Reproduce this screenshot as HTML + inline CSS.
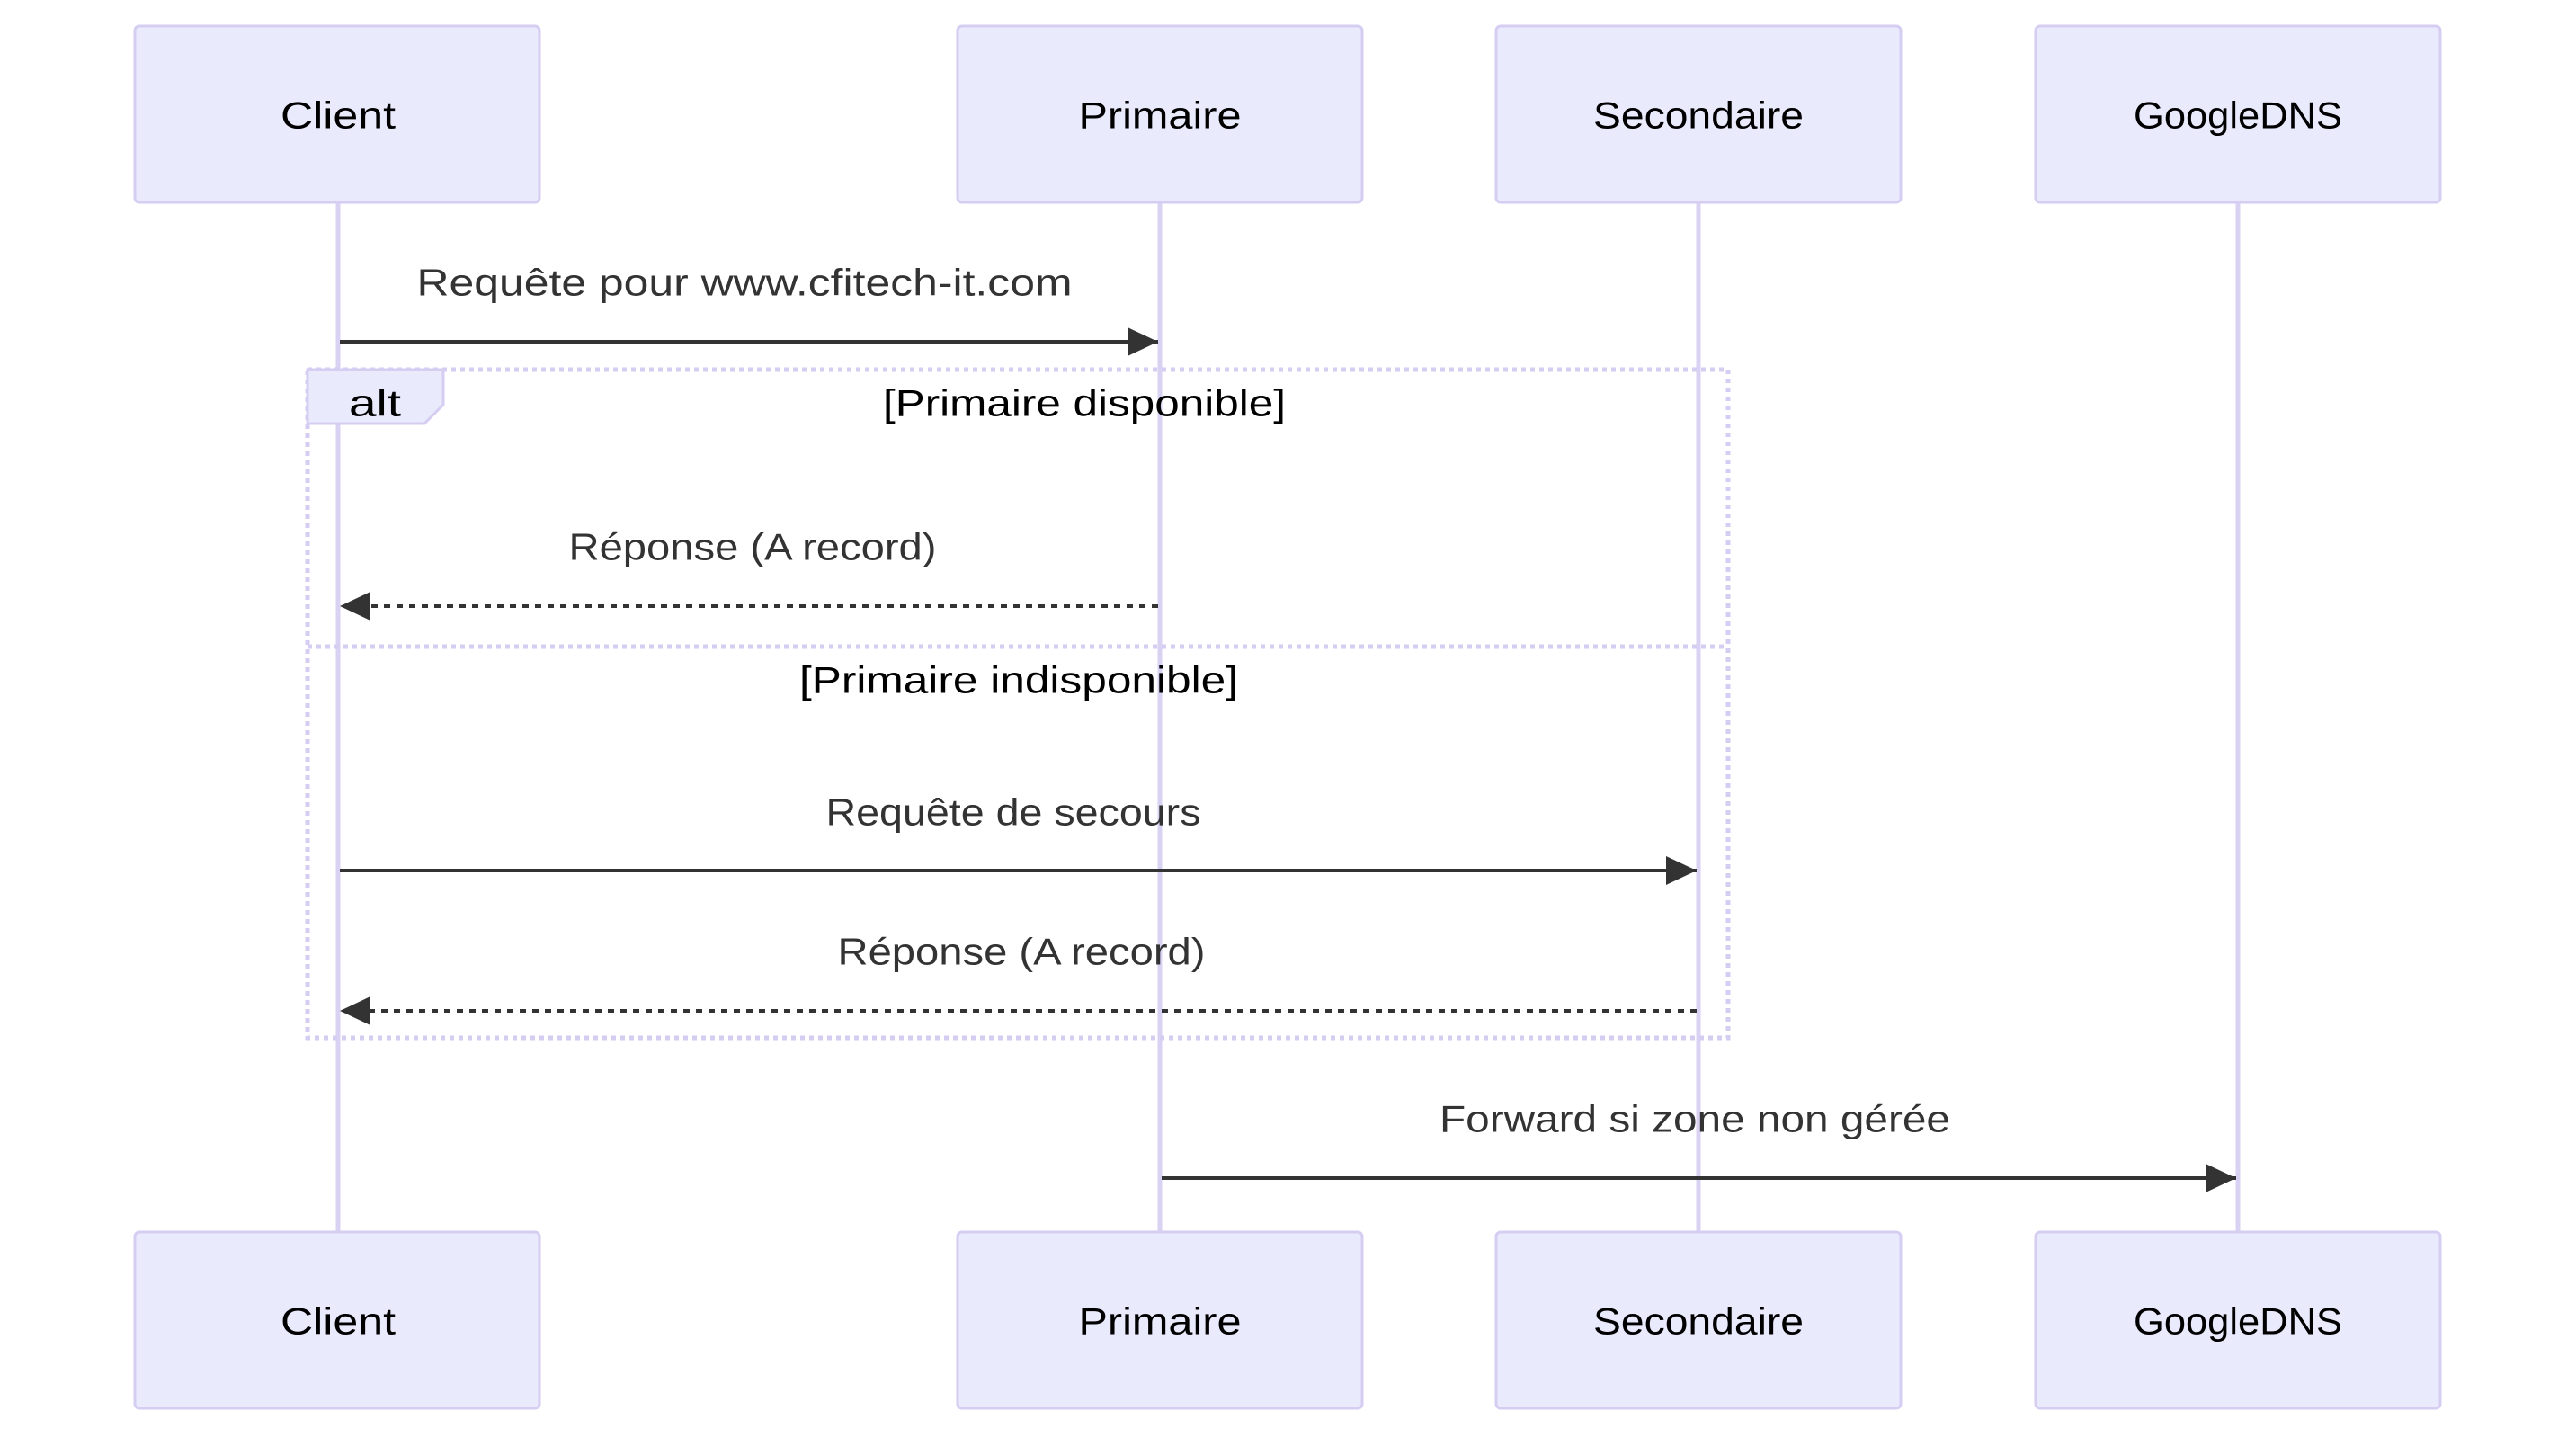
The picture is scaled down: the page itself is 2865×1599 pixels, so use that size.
<!DOCTYPE html>
<html><head><meta charset="utf-8"><style>html,body{margin:0;padding:0;background:#fff}svg{display:block}</style></head>
<body>
<svg width="2865" height="1599" viewBox="0 0 2865 1599" xmlns="http://www.w3.org/2000/svg" font-family="'Liberation Sans', sans-serif">
<defs>
<marker id="ah" markerWidth="34" markerHeight="32" refX="34" refY="16" orient="auto" markerUnits="userSpaceOnUse"><path d="M0,0 L34,16 L0,32 Z" fill="#333"/></marker>
</defs>
<g stroke="#dad2f3" stroke-width="5">
<line x1="376" y1="225" x2="376" y2="1370"/>
<line x1="1290" y1="225" x2="1290" y2="1370"/>
<line x1="1889" y1="225" x2="1889" y2="1370"/>
<line x1="2489" y1="225" x2="2489" y2="1370"/>
</g>
<g fill="#eaeafd" stroke="#d6cdf2" stroke-width="3">
<rect x="150" y="29" width="450" height="196" rx="5"/>
<rect x="1065" y="29" width="450" height="196" rx="5"/>
<rect x="1664" y="29" width="450" height="196" rx="5"/>
<rect x="2264" y="29" width="450" height="196" rx="5"/>
<rect x="150" y="1370" width="450" height="196" rx="5"/>
<rect x="1065" y="1370" width="450" height="196" rx="5"/>
<rect x="1664" y="1370" width="450" height="196" rx="5"/>
<rect x="2264" y="1370" width="450" height="196" rx="5"/>
</g>
<g font-size="42" fill="#000" text-anchor="middle" dominant-baseline="central">
<text x="376" y="128" textLength="128" lengthAdjust="spacingAndGlyphs">Client</text>
<text x="1290" y="128" textLength="181" lengthAdjust="spacingAndGlyphs">Primaire</text>
<text x="1889" y="128" textLength="234" lengthAdjust="spacingAndGlyphs">Secondaire</text>
<text x="2489" y="128" textLength="232" lengthAdjust="spacingAndGlyphs">GoogleDNS</text>
<text x="376" y="1469" textLength="128" lengthAdjust="spacingAndGlyphs">Client</text>
<text x="1290" y="1469" textLength="181" lengthAdjust="spacingAndGlyphs">Primaire</text>
<text x="1889" y="1469" textLength="234" lengthAdjust="spacingAndGlyphs">Secondaire</text>
<text x="2489" y="1469" textLength="232" lengthAdjust="spacingAndGlyphs">GoogleDNS</text>
</g>
<rect x="342" y="411" width="1580" height="743" fill="none" stroke="#d6cdf2" stroke-width="5" stroke-dasharray="5,5"/>
<line x1="342" y1="719" x2="1922" y2="719" stroke="#d6cdf2" stroke-width="5" stroke-dasharray="5,5"/>
<path d="M342,411 L493,411 L493,450 L472,471 L342,471 Z" fill="#eaeafd" stroke="#d6cdf2" stroke-width="3"/>
<g font-size="42" fill="#000" text-anchor="middle" dominant-baseline="central">
<text x="417" y="448" textLength="58" lengthAdjust="spacingAndGlyphs">alt</text>
<text x="1206" y="448" textLength="448" lengthAdjust="spacingAndGlyphs">[Primaire disponible]</text>
<text x="1133" y="756" textLength="488" lengthAdjust="spacingAndGlyphs">[Primaire indisponible]</text>
</g>
<g stroke="#333" stroke-width="4" fill="none">
<line x1="378" y1="380" x2="1288" y2="380" marker-end="url(#ah)"/>
<line x1="1288" y1="674" x2="378" y2="674" stroke-dasharray="7,7" marker-end="url(#ah)"/>
<line x1="378" y1="968" x2="1887" y2="968" marker-end="url(#ah)"/>
<line x1="1887" y1="1124" x2="378" y2="1124" stroke-dasharray="7,7" marker-end="url(#ah)"/>
<line x1="1292" y1="1310" x2="2487" y2="1310" marker-end="url(#ah)"/>
</g>
<g font-size="42" fill="#333" text-anchor="middle" dominant-baseline="central">
<text x="828" y="314" textLength="729" lengthAdjust="spacingAndGlyphs">Requête pour www.cfitech-it.com</text>
<text x="837" y="608" textLength="409" lengthAdjust="spacingAndGlyphs">Réponse (A record)</text>
<text x="1127" y="903" textLength="417" lengthAdjust="spacingAndGlyphs">Requête de secours</text>
<text x="1136" y="1058" textLength="409" lengthAdjust="spacingAndGlyphs">Réponse (A record)</text>
<text x="1885" y="1244" textLength="568" lengthAdjust="spacingAndGlyphs">Forward si zone non gérée</text>
</g>
</svg>
</body></html>
